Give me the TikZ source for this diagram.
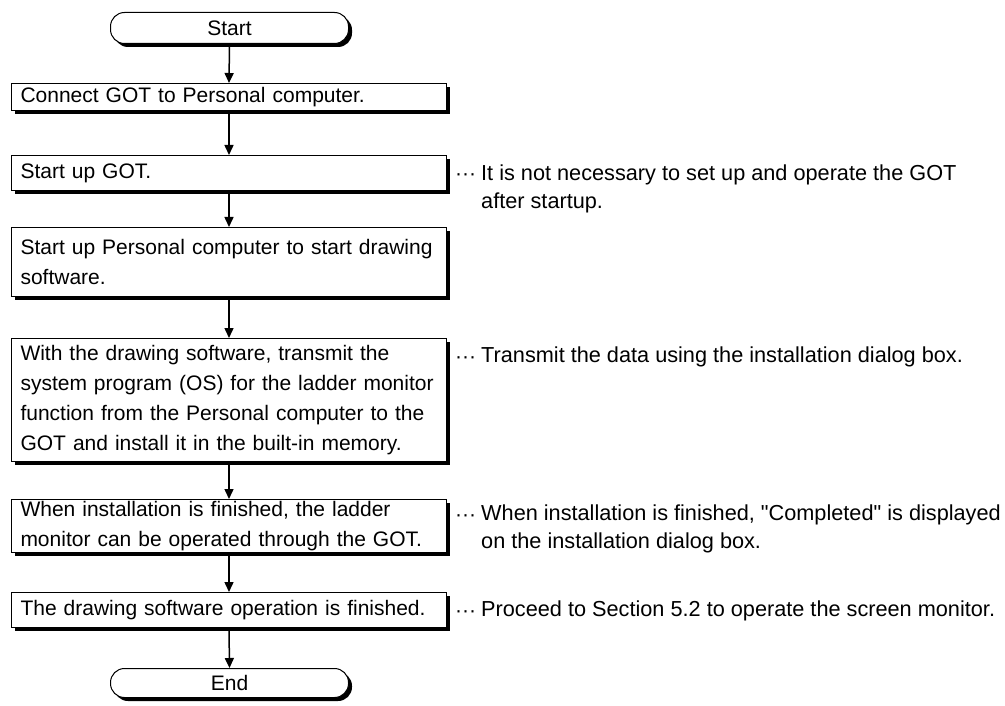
\documentclass[tikz,border=0pt]{standalone}
\usepackage{fontspec}
\setmainfont{Liberation Sans}
\usetikzlibrary{shadows,arrows.meta}
\begin{document}
\begin{tikzpicture}[x=1pt,y=-1pt,
  every node/.style={font=\fontsize{21}{30}\selectfont},
  boxshadow/.style={drop shadow={shadow xshift=3.5pt,shadow yshift=-3.5pt,fill=black,opacity=1}},
  proc/.style={draw,fill=white,line width=1pt,anchor=north west,minimum width=435pt,
    text width=417pt,inner xsep=9pt,inner ysep=0pt,align=left,boxshadow},
  term/.style={draw,fill=white,line width=1pt,anchor=north west,minimum width=238pt,
    rounded corners=14pt,inner sep=0pt,boxshadow},
  arr/.style={line width=1.5pt,-{Triangle[width=9pt,length=10pt]}},
  dotsnode/.style={anchor=base west,inner sep=0pt},
  note/.style={anchor=north west,inner sep=0pt,align=left,font=\fontsize{21.7}{28}\selectfont},
]
\useasboundingbox (0,0) rectangle (1005,706);

\node[term,minimum height=31pt] (start) at (110,12) {Start};
\node[proc,minimum height=27pt] (b1) at (11,83) {Connect GOT to Personal computer.};
\node[proc,minimum height=35pt] (b2) at (11,155) {Start up GOT.};
\node[proc,minimum height=69pt] (b3) at (11,227) {\mbox{Start up Personal computer to start drawing}\\software.};
\node[proc,minimum height=123pt] (b4) at (11,338) {\mbox{With the drawing software, transmit the}\\\mbox{system program (OS) for the ladder monitor}\\\mbox{function from the Personal computer to the}\\\mbox{GOT and install it in the built-in memory.}};
\node[proc,minimum height=53pt] (b5) at (11,499) {\mbox{When installation is finished, the ladder}\\\mbox{monitor can be operated through the GOT.}};
\node[proc,minimum height=35pt] (b6) at (11,592) {\mbox{The drawing software operation is finished.}};
\node[term,minimum height=29pt] (end) at (110,668) {End};

\draw[arr] (start.south) -- (b1.north);
\draw[arr] (b1.south) -- (b2.north);
\draw[arr] (b2.south) -- (b3.north);
\draw[arr] (b3.south) -- (b4.north);
\draw[arr] (b4.south) -- (b5.north);
\draw[arr] (b5.south) -- (b6.north);
\draw[arr] (b6.south) -- (end.north);

\node[dotsnode] (d2) at (455,181) {···};
\node[note] (n2) at (481,165) {It is not necessary to set up and operate the GOT\\after startup.};
\node[dotsnode] (d4) at (455,363) {···};
\node[note] (n4) at (481,347) {Transmit the data using the installation dialog box.};
\node[dotsnode] (d5) at (455,521) {···};
\node[note] (n5) at (481,505) {When installation is finished, \textquotedbl Completed\textquotedbl{} is displayed\\on the installation dialog box.};
\node[dotsnode] (d6) at (455,617) {···};
\node[note] (n6) at (481,601) {Proceed to Section 5.2 to operate the screen monitor.};
\end{tikzpicture}
\end{document}
